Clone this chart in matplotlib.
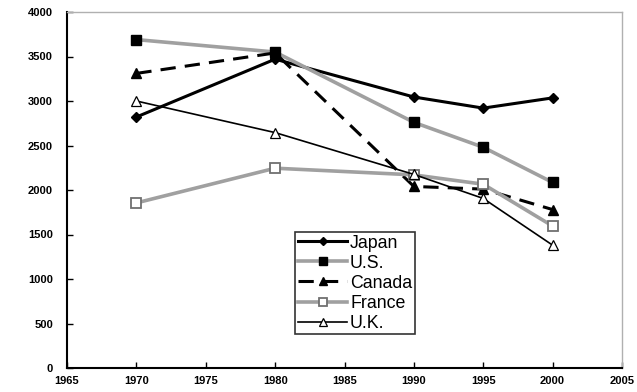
import matplotlib
matplotlib.use("Agg")
import matplotlib.pyplot as plt

plt.rcParams["font.family"] = ["Liberation Sans", "DejaVu Sans"]

years = [1970, 1980, 1990, 1995, 2000]
japan = [2820, 3470, 3045, 2920, 3035]
us = [3690, 3550, 2760, 2480, 2085]
canada = [3310, 3540, 2040, 2010, 1780]
france = [1855, 2245, 2170, 2065, 1595]
uk = [3000, 2645, 2175, 1905, 1380]

fig = plt.figure(figsize=(6.37, 3.92), dpi=100)
ax = fig.add_axes([67 / 637, 24 / 392, 555 / 637, 356 / 392])

ax.plot(years, japan, color="black", lw=2.2, marker="D", ms=5, label="Japan")
ax.plot(years, us, color="#a0a0a0", lw=2.6, marker="s", ms=7,
        mfc="black", mec="black", label="U.S.")
ax.plot(years, canada, color="black", lw=2.2, ls=(0, (5, 3)), marker="^", ms=7,
        label="Canada")
ax.plot(years, france, color="#a0a0a0", lw=2.6, marker="s", ms=7,
        mfc="white", mec="#707070", mew=1.3, label="France")
ax.plot(years, uk, color="black", lw=1.2, marker="^", ms=7,
        mfc="white", mec="black", mew=0.9, label="U.K.")

ax.set_xlim(1965, 2005)
ax.set_ylim(0, 4000)
ax.set_xticks(range(1965, 2006, 5))
ax.set_yticks(range(0, 4001, 500))
ax.tick_params(axis="both", labelsize=8, length=4, width=1, direction="in")
ax.tick_params(axis="x", pad=6)
ax.tick_params(axis="y", pad=10)
for lbl in ax.get_xticklabels() + ax.get_yticklabels():
    lbl.set_fontweight("bold")

for side in ["left", "bottom"]:
    ax.spines[side].set_linewidth(1.5)
    ax.spines[side].set_color("black")
for side in ["top", "right"]:
    ax.spines[side].set_linewidth(1)
    ax.spines[side].set_color("#b0b0b0")

leg = ax.legend(loc="upper left", bbox_to_anchor=(228 / 555, 136 / 356),
                fontsize=12.8, frameon=True, fancybox=False, edgecolor="black",
                handlelength=2.8, handletextpad=0.15, borderpad=0.15,
                labelspacing=0.17, borderaxespad=0, markerscale=0.8)
leg.get_frame().set_linewidth(1.2)

fig.savefig("out.png", dpi=100)
